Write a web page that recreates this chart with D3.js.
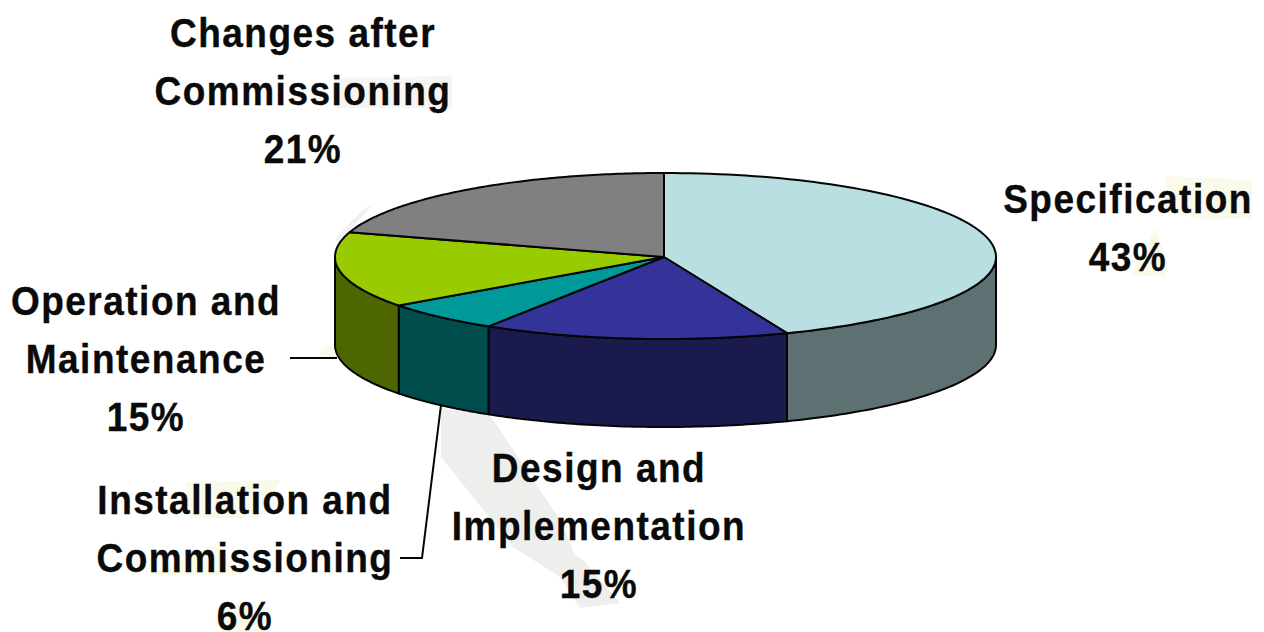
<!DOCTYPE html>
<html><head><meta charset="utf-8">
<script src="https://cdnjs.cloudflare.com/ajax/libs/d3/7.8.5/d3.min.js"></script>
<style>html,body{margin:0;padding:0;background:#fff;overflow:hidden}svg{display:block}
text{font-family:"Liberation Sans",Arial,sans-serif;font-weight:700;font-size:37px;letter-spacing:1.5px;fill:#0a0a0a;stroke:#0a0a0a;stroke-width:.35px;text-anchor:middle}</style>
</head><body><svg id="c" width="1264" height="632"></svg>
<script>
// Share of failures by project phase, clockwise from twelve o'clock
const phases = ["Specification","Design and Implementation","Installation and Commissioning","Operation and Maintenance","Changes after Commissioning"];
const shares = [43,15,6,15,21];
const topColors = ["#b9dfe3","#333399","#009999","#99cc00","#808080"];
const sideColors = ["#5d7173","#1a1a4d","#004d4d","#4d6600","#404040"];
const labelLines = [["Specification","43%"],["Design and","Implementation","15%"],["Installation and","Commissioning","6%"],["Operation and","Maintenance","15%"],["Changes after","Commissioning","21%"]];
const labelAnchors = [[1128,213],[599,482],[245,514],[146,315],[303,47]];
const lineHeight = 58;

// Pale washes lying behind the chart
const washes = [
  {fill:"#eeeeec", pts:[[441,408],[490,415],[560,520],[575,555],[583,560],[620,603],[580,608],[560,577],[513,547],[441,457]]},
  {fill:"#f1f1ef", pts:[[362,210],[375,203],[350,230],[335,243],[336,238]]},
  {fill:"#f5f5f3", pts:[[335,78],[452,76],[452,108],[335,108]]},
  {fill:"#f9fae9", pts:[[1166,176],[1252,180],[1252,218],[1205,220],[1165,212]]},
  {fill:"#f9fae9", pts:[[1155,228],[1132,275],[1165,277],[1168,262]]},
  {fill:"#f9fae9", pts:[[185,482],[280,480],[260,518],[190,518]]},
  {fill:"#f9fae9", pts:[[150,575],[215,545],[240,575]]},
  {fill:"#f9fae9", pts:[[215,620],[240,600],[272,632],[222,632]]},
  {fill:"#f9fae9", pts:[[318,355],[330,342],[337,358]]}
];

const svg = d3.select("#c");
const cx=664, cy=257, rxRight=332, rxLeft=329, ryBack=84, ryFront=82, depth=88;
const slices = d3.pie().sort(null).value(d=>d)(shares);

// Oblique view: angles drift slightly as they travel round the rim of the tilted disc
const viewAngle = a => a + (3.5*Math.PI/180)*Math.sqrt(Math.max(0,Math.sin(a/2)));
const px = a => cx + (Math.sin(a)>=0?rxRight:rxLeft)*Math.sin(a);
const py = a => cy - (Math.cos(a)>=0?ryBack:ryFront)*Math.cos(a);
const ink = "#050505";

const poly = d3.line();
svg.append("g").selectAll("path").data(washes).join("path")
  .attr("d",w=>poly(w.pts)+"Z").attr("fill",d=>d.fill);

// Side wall: only the front half of the rim (90° to 270°) is visible
const lo = Math.PI/2, hi = 3*Math.PI/2;
slices.forEach((s,i)=>{
  const a0=Math.max(viewAngle(s.startAngle),lo), a1=Math.min(viewAngle(s.endAngle),hi);
  if(a1<=a0) return;
  const pts=d3.range(0,61).map(k=>a0+(a1-a0)*k/60);
  const path=d3.path();
  pts.forEach((a,k)=> k?path.lineTo(px(a),py(a)):path.moveTo(px(a),py(a)));
  pts.slice().reverse().forEach(a=>path.lineTo(px(a),py(a)+depth));
  path.closePath();
  svg.append("path").attr("d",path.toString()).attr("fill",sideColors[i]).attr("stroke",ink).attr("stroke-width",2).attr("stroke-linejoin","round");
});

// Top face
slices.forEach((s,i)=>{
  const a0=viewAngle(s.startAngle), a1=viewAngle(s.endAngle);
  const path=d3.path();
  path.moveTo(cx,cy);
  d3.range(0,101).forEach(k=>{const a=a0+(a1-a0)*k/100;path.lineTo(px(a),py(a));});
  path.closePath();
  svg.append("path").attr("d",path.toString()).attr("fill",topColors[i]).attr("stroke",ink).attr("stroke-width",2).attr("stroke-linejoin","round");
});

// Leader lines for the two labels set away from their slices
[[[290,358],[337,358]],[[400,558],[422,558],[441,405]]].forEach(l=>{
  svg.append("path").attr("d",poly(l)).attr("fill","none").attr("stroke",ink).attr("stroke-width",2);
});

// Labels, stretched a little vertically
labelLines.forEach((lines,i)=>{
  lines.forEach((ln,k)=>{
    svg.append("text")
      .attr("transform",`translate(${labelAnchors[i][0]},${labelAnchors[i][1]+k*lineHeight}) scale(1,1.12)`)
      .text(ln);
  });
});
</script></body></html>
